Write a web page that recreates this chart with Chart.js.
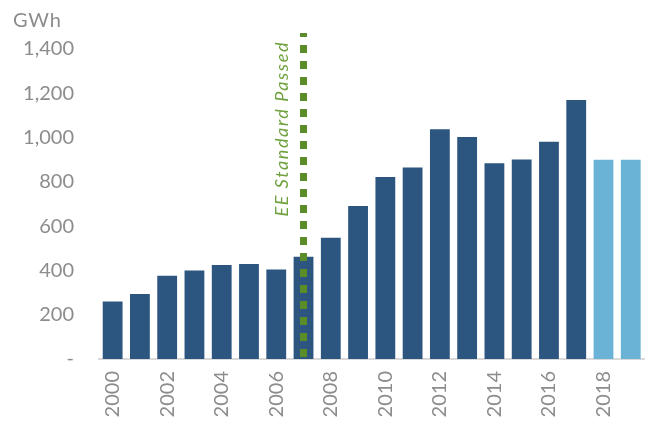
<!DOCTYPE html>
<html>
<head>
<meta charset="utf-8">
<script src="https://cdn.jsdelivr.net/npm/chart.js@4.4.1/dist/chart.umd.min.js"></script>
<style>
    html, body { margin: 0; padding: 0; background: #fff; }
    #wrap { width: 647px; height: 421px; }
</style>
</head>
<body>
<div id="wrap"><canvas id="savingsChart"></canvas></div>
<script>
// Annual energy savings, GWh
const years = ['2000', '2001', '2002', '2003', '2004', '2005', '2006', '2007', '2008', '2009',
    '2010', '2011', '2012', '2013', '2014', '2015', '2016', '2017', '2018', '2019'];
const gwh = [264, 298, 381, 404, 429, 434, 409, 466, 552, 695,
    826, 869, 1042, 1007, 889, 906, 986, 1174, 904, 904];
const projectedYears = ['2018', '2019'];
const standardYear = '2007';
const standardLabel = 'EE Standard Passed';
const yTicks = [0, 200, 400, 600, 800, 1000, 1200, 1400];

const DARK_BLUE = '#2c5680';
const LIGHT_BLUE = '#6bb3d6';
const GREEN_DOTS = '#5b8c2a';
const GREEN_TEXT = '#6fa23e';
const GREY_TEXT = '#8c8c8c';
const FONT = 'Lato, "Open Sans", sans-serif';

const barColors = years.map(y => projectedYears.includes(y) ? LIGHT_BLUE : DARK_BLUE);

// dotted marker line + rotated label + unit caption
const markerPlugin = {
    id: 'marker',
    afterDatasetsDraw(chart) {
        const { ctx, chartArea, scales } = chart;
        const x = scales.x.getPixelForValue(years.indexOf(standardYear));
        const top = chartArea.top - 16;

        ctx.save();
        ctx.strokeStyle = GREEN_DOTS;
        ctx.lineWidth = 7;
        ctx.setLineDash([8, 8]);
        ctx.lineDashOffset = 4;
        ctx.beginPath();
        ctx.moveTo(x, top);
        ctx.lineTo(x, chartArea.bottom);
        ctx.stroke();
        ctx.restore();

        ctx.save();
        ctx.translate(x - 16, top + 8);
        ctx.rotate(-Math.PI / 2);
        ctx.fillStyle = GREEN_TEXT;
        ctx.font = 'italic 18px ' + FONT;
        ctx.letterSpacing = '1.6px';
        ctx.textAlign = 'right';
        ctx.textBaseline = 'alphabetic';
        ctx.fillText(standardLabel, 0, 0);
        ctx.restore();

        ctx.save();
        ctx.fillStyle = GREY_TEXT;
        ctx.font = '20px ' + FONT;
        ctx.letterSpacing = '0.8px';
        ctx.textAlign = 'left';
        ctx.textBaseline = 'alphabetic';
        ctx.fillText('GWh', 13, 27);
        ctx.restore();
    }
};

new Chart(document.getElementById('savingsChart'), {
    type: 'bar',
    data: {
        labels: years,
        datasets: [{
            label: 'GWh',
            data: gwh,
            backgroundColor: barColors,
            borderColor: 'rgba(255,255,255,0.45)',
            borderWidth: 1,
            categoryPercentage: 0.8,
            barPercentage: 1.0,
        }]
    },
    options: {
        responsive: true,
        maintainAspectRatio: false,
        animation: false,
        events: [],
        layout: { padding: { top: 49, right: 2.6, left: 0, bottom: 0 } },
        plugins: {
            legend: { display: false },
            tooltip: { enabled: false },
        },
        scales: {
            x: {
                grid: { display: false, drawTicks: false },
                border: { display: true, color: '#d9d9d9', width: 2 },
                ticks: {
                    autoSkip: false,
                    minRotation: 90,
                    maxRotation: 90,
                    padding: 12,
                    color: GREY_TEXT,
                    font: { family: FONT, size: 20 },
                    callback: (value, index) => index % 2 === 0 ? years[index] : '',
                },
                afterFit: (scale) => {
                    scale.height = 62;
                    scale.paddingLeft = 0;
                    scale.paddingRight = 0;
                },
            },
            y: {
                min: 0,
                max: 1400,
                grid: { display: false, drawTicks: false },
                border: { display: false },
                afterBuildTicks: (scale) => { scale.ticks = yTicks.map(v => ({ value: v })); },
                ticks: {
                    padding: 25,
                    color: GREY_TEXT,
                    font: { family: FONT, size: 20 },
                    callback: (value) => value === 0 ? '-' : value.toLocaleString('en-US'),
                },
                afterFit: (scale) => { scale.width = 99; },
            }
        }
    },
    plugins: [markerPlugin]
});
</script>
</body>
</html>
